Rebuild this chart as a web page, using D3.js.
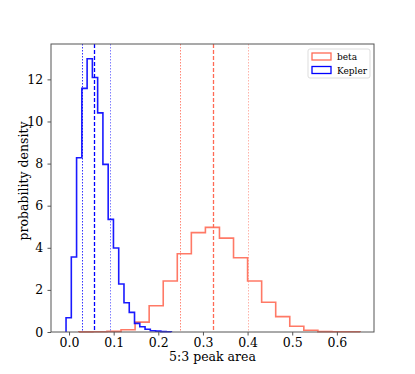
<!DOCTYPE html>
<html>
<head>
<meta charset="utf-8">
<script src="https://cdn.jsdelivr.net/npm/d3@7"></script>
<style>
  body { margin: 0; background: #fff; }
  text { font-family: "DejaVu Serif", serif; }
</style>
</head>
<body>
<div id="chart"></div>
<script>
  // blue (Kepler) histogram: bin edges start + width, densities
  const keplerStart = -0.0067;
  const keplerWidth = 0.0118;
  const keplerDensity = [0.68, 3.56, 8.28, 11.57, 12.98, 12.09, 10.41, 7.96, 5.35, 3.99,
    2.28, 1.39, 0.93, 0.41, 0.25, 0.13, 0.06, 0.04, 0.02, 0.01];

  // red (beta) histogram
  const betaStart = 0.022;
  const betaWidth = 0.0315;
  const betaDensity = [0.005, 0.01, 0.03, 0.11, 0.47, 1.25, 2.42, 3.72, 4.72, 4.97,
    4.46, 3.53, 2.42, 1.41, 0.73, 0.27, 0.08, 0.02, 0.01, 0.01];

  // percentile lines [low, median, high]
  const keplerLines = [0.030, 0.057, 0.091];
  const betaLines = [0.249, 0.3235, 0.4016];

  const xTicks = [0.0, 0.1, 0.2, 0.3, 0.4, 0.5, 0.6];
  const yTicks = [0, 2, 4, 6, 8, 10, 12];
  const legendLabels = ["beta", "Kepler"];

  const W = 415, H = 374;
  const margin = { top: 44, right: 41, bottom: 42, left: 51 };
  const width = W - margin.left - margin.right;
  const height = H - margin.top - margin.bottom;

  const x = d3.scaleLinear().domain([-0.0404, 0.6832]).range([0, width]);
  const y = d3.scaleLinear().domain([0, 13.68]).range([height, 0]);

  const svg = d3.select("#chart").append("svg")
    .attr("width", W).attr("height", H)
    .append("g")
    .attr("transform", `translate(${margin.left}, ${margin.top})`);

  function stepPath(start, w, dens) {
    const pts = [[start, 0]];
    dens.forEach((d, i) => {
      pts.push([start + i * w, d]);
      pts.push([start + (i + 1) * w, d]);
    });
    pts.push([start + dens.length * w, 0]);
    return d3.line().x(p => x(p[0])).y(p => y(p[1]))(pts);
  }

  const red = "#ff6a55";
  const blue = "#0000ff";

  // vertical percentile lines
  function vlines(vals, color) {
    const styles = [
      { dash: "1.5,1.5", op: 0.8, w: 1 },
      { dash: "4,2", op: 1, w: 1.3 },
      { dash: "1.5,1.5", op: 0.5, w: 1 }
    ];
    vals.forEach((v, i) => {
      svg.append("line")
        .attr("x1", Math.round(x(v)) + 0.5).attr("x2", Math.round(x(v)) + 0.5)
        .attr("y1", 0).attr("y2", height)
        .style("stroke", color)
        .attr("stroke-width", styles[i].w)
        .attr("stroke-opacity", styles[i].op)
        .attr("stroke-dasharray", styles[i].dash);
    });
  }

  svg.append("path")
    .attr("d", stepPath(betaStart, betaWidth, betaDensity))
    .attr("fill", "none").attr("stroke", red).attr("stroke-width", 1.6)
    .attr("stroke-opacity", 0.9);
  svg.append("path")
    .attr("d", stepPath(keplerStart, keplerWidth, keplerDensity))
    .attr("fill", "none").attr("stroke", blue).attr("stroke-width", 1.6)
    .attr("stroke-opacity", 0.9);

  vlines(betaLines, red);
  vlines(keplerLines, blue);

  // axes
  const xAxis = svg.append("g")
    .attr("transform", `translate(0, ${height})`)
    .call(d3.axisBottom(x).tickValues(xTicks).tickFormat(d3.format(".1f")).tickSizeOuter(0).tickSize(3.5));
  const yAxis = svg.append("g")
    .call(d3.axisLeft(y).tickValues(yTicks).tickFormat(d3.format("d")).tickSizeOuter(0).tickSize(3.5));
  [xAxis, yAxis].forEach(a => {
    a.select(".domain").remove();
    a.selectAll("line").attr("stroke", "#555");
    a.selectAll("text").attr("font-size", 12.5).attr("fill", "#000")
      .style("font-family", "'DejaVu Serif', serif");
  });
  yAxis.selectAll("text").attr("dx", "-0.1em");

  // frame
  svg.append("rect")
    .attr("x", 0).attr("y", 0).attr("width", width).attr("height", height)
    .attr("fill", "none").attr("stroke", "#555").attr("stroke-width", 1);

  // labels
  svg.append("text")
    .attr("x", width / 2).attr("y", height + 29)
    .attr("text-anchor", "middle").attr("font-size", 12.5)
    .text("5:3 peak area");
  svg.append("text")
    .attr("transform", `translate(${-23}, ${137}) rotate(-90)`)
    .attr("text-anchor", "middle").attr("font-size", 12.5)
    .text("probability density");

  // legend
  const lg = svg.append("g").attr("transform", `translate(${width - 66}, 5)`);
  lg.append("rect").attr("x", 0).attr("y", 0).attr("width", 62).attr("height", 29)
    .attr("fill", "#fff").attr("stroke", "#ddd").attr("rx", 2);
  [red, blue].forEach((c, i) => {
    lg.append("rect").attr("x", 4).attr("y", 4 + i * 13.5).attr("width", 19).attr("height", 7)
      .attr("fill", "none").attr("stroke", c).attr("stroke-width", 1.3);
    lg.append("text").attr("x", 29).attr("y", 11 + i * 13.5)
      .attr("font-size", 9).text(legendLabels[i]);
  });
</script>
</body>
</html>
